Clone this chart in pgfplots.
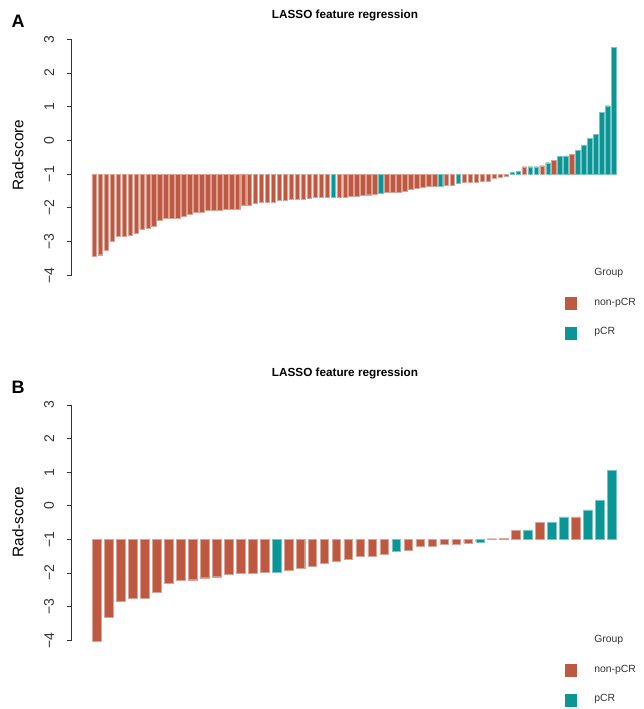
\documentclass[border=0pt]{standalone}
\usepackage{fontspec}
\setmainfont{Liberation Sans}
\usepackage{pgfplots}
\pgfplotsset{compat=1.18}
\definecolor{cNon}{HTML}{BE5841}
\definecolor{cPcr}{HTML}{0A9696}
\definecolor{cAxis}{HTML}{333333}

% bars hang from the -1 baseline: the plotted value is shifted by +1,
% so the axis runs -3..4 internally and is labelled -4..3
\pgfplotsset{
  radscore/.style={
    scale only axis, clip=false,
    ymin=-3, ymax=4,
    axis x line=none, axis y line*=left,
    ytick={-3,-2,-1,0,1,2,3,4},
    yticklabels={−4,−3,−2,−1,0,1,2,3},
    tick align=outside, major tick length=3.75pt,
    y axis line style={cAxis, line width=0.75pt},
    ytick style={cAxis, line width=0.75pt},
    yticklabel style={rotate=90, anchor=south, inner sep=0pt, outer sep=9.5pt,
      font=\fontsize{10.5}{12}\selectfont, text=cAxis},
    ybar, bar shift=0pt,
  },
  score/.style={ybar, bar shift=0pt, y filter/.expression={y+1}, line width=0.3pt},
}

\begin{document}
\begin{tikzpicture}
\useasboundingbox (0,0) rectangle (482.25pt,-531.75pt);

% ---------- panel A ----------
\begin{axis}[radscore,
  at={(53.78pt,-206.48pt)}, anchor=south west,
  width=410.9pt, height=177pt,
  xmin=-3.77, xmax=88, bar width=0.75]
\addplot[score, fill=cNon, draw=cNon!55!white]
  coordinates {
  (0,-3.44)(1,-3.39)(2,-3.27)(3,-3.00)(4,-2.83)(5,-2.83)(6,-2.80)(7,-2.74)
  (8,-2.62)(9,-2.59)(10,-2.54)(11,-2.37)(12,-2.32)(13,-2.32)(14,-2.32)(15,-2.25)
  (16,-2.20)(17,-2.13)(18,-2.12)(19,-2.08)(20,-2.08)(21,-2.07)(22,-2.05)(23,-2.03)
  (24,-2.03)(25,-1.93)(26,-1.93)(27,-1.85)(28,-1.83)(29,-1.83)(30,-1.83)(31,-1.78)
  (32,-1.78)(33,-1.75)(34,-1.74)(35,-1.73)(36,-1.71)(37,-1.69)(38,-1.69)(39,-1.68)
  (41,-1.67)(42,-1.67)(43,-1.66)(44,-1.65)(45,-1.63)(46,-1.61)(47,-1.59)
  (49,-1.54)(50,-1.54)(51,-1.53)(52,-1.50)(53,-1.46)(54,-1.41)(55,-1.38)(56,-1.37)
  (57,-1.36)(59,-1.34)(60,-1.32)(62,-1.25)(63,-1.25)(64,-1.23)(65,-1.22)(66,-1.20)
  (67,-1.13)(68,-1.08)(69,-1.06)(72,-0.78)(75,-0.75)(77,-0.59)(80,-0.42)
  };
\addplot[score, fill=cPcr, draw=cPcr!55!white]
  coordinates {
  (40,-1.68)(48,-1.56)(58,-1.35)(61,-1.26)(70,-0.95)(71,-0.91)(73,-0.78)(74,-0.78)
  (76,-0.66)(78,-0.48)(79,-0.46)(81,-0.29)(82,-0.13)(83,0.07)(84,0.18)(85,0.83)
  (86,1.03)(87,2.77)
  };
\end{axis}

% ---------- panel B ----------
\begin{axis}[radscore,
  at={(53.78pt,-480.15pt)}, anchor=south west,
  width=414pt, height=176.4pt,
  xmin=-2.1, xmax=44, bar width=0.72]
\addplot[score, fill=cNon, draw=cNon!55!white]
  coordinates {
  (0,-4.02)(1,-3.31)(2,-2.85)(3,-2.76)(4,-2.76)(5,-2.58)(6,-2.29)(7,-2.22)
  (8,-2.20)(9,-2.14)(10,-2.11)(11,-2.04)(12,-2.01)(13,-2.01)(14,-1.99)
  (16,-1.93)(17,-1.87)(18,-1.80)(19,-1.72)(20,-1.65)(21,-1.60)(22,-1.50)(23,-1.50)
  (24,-1.45)(26,-1.33)(27,-1.20)(28,-1.20)(29,-1.13)(30,-1.13)(31,-1.10)
  (33,-0.98)(34,-0.97)(35,-0.73)(37,-0.50)(40,-0.33)
  };
\addplot[score, fill=cPcr, draw=cPcr!55!white]
  coordinates {
  (15,-1.99)(25,-1.35)(32,-1.07)(36,-0.72)(38,-0.50)(39,-0.33)(41,-0.12)(42,0.18)
  (43,1.06)
  };
\end{axis}

% ---------- titles, labels and legends (pixel grid of the reference) ----------
\begin{scope}[x=0.75pt, y=-0.75pt]
\foreach \lab/\dy in {A/0, B/366} {
  \node[font=\fontsize{13.5}{16}\selectfont\bfseries] at (18,21+\dy) {\lab};
}
\node[font=\fontsize{8.8}{10}\selectfont\bfseries] at (345,15) {LASSO feature regression};
\node[font=\fontsize{8.8}{10}\selectfont\bfseries] at (345,373) {LASSO feature regression};
\node[rotate=90, font=\fontsize{11.5}{13}\selectfont] at (18,155) {Rad-score};
\node[rotate=90, font=\fontsize{11.5}{13}\selectfont] at (18,522) {Rad-score};
\foreach \dy in {0,367} {
  \node[anchor=west, inner sep=0pt, font=\fontsize{7.8}{9}\selectfont, text=cAxis] at (594,273+\dy) {Group};
  \fill[cNon] (565,297+\dy) rectangle (577,310+\dy);
  \node[anchor=west, inner sep=0pt, font=\fontsize{7.8}{9}\selectfont, text=cAxis] at (594,303+\dy) {non-pCR};
  \fill[cPcr] (565,327+\dy) rectangle (577,340+\dy);
  \node[anchor=west, inner sep=0pt, font=\fontsize{7.8}{9}\selectfont, text=cAxis] at (594,332+\dy) {pCR};
}
\end{scope}
\end{tikzpicture}
\end{document}
